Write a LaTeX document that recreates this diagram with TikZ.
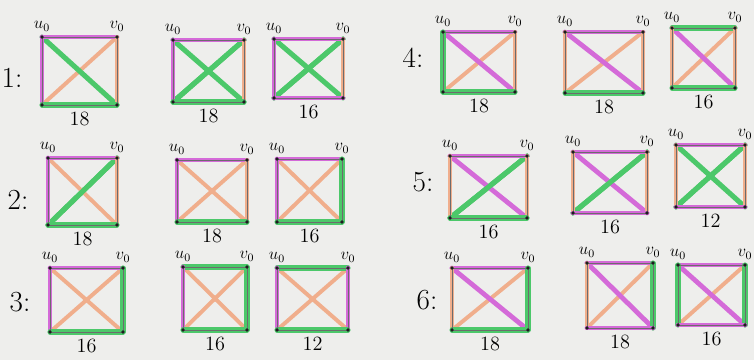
\documentclass[tikz,border=0pt]{standalone}
\usetikzlibrary{positioning}
\definecolor{papel}{HTML}{EEEEEC}
\definecolor{rosa}{HTML}{D46AD8}
\definecolor{verde}{HTML}{4CC86A}
\definecolor{melo}{HTML}{F0AE8C}
\definecolor{tinta}{HTML}{1D1D1F}

\begin{document}
\begin{tikzpicture}[x=0.025cm,y=-0.025cm,
  mg/.style={rosa,line width=3.4pt,line cap=round},
  gr/.style={verde,line width=3.6pt,line cap=round},
  pe/.style={melo,line width=2.8pt,line cap=round},
  mg/over/.style={mg},
  gr/over/.style={gr},
  pe/over/.style={draw=none},
  lapiz/.style={tinta!65,line width=0.4pt},
  lbl/.style={font=\large,inner sep=0pt},
  num/.style={font=\Large},
  fila/.style={font=\huge}]

\fill[papel] (0,0) rectangle (754,360);
\useasboundingbox (0,0) rectangle (754,360);

% squares: corners, sides top/left/right/bottom, diagonals u-q / v-p, total
\foreach \nm/\xa/\ya/\xb/\yb/\sT/\sL/\sR/\sB/\dA/\dB/\num in {
  a1/42/37/117/105/mg/mg/pe/gr/gr/pe/18,
  b1/173/40/244/102/mg/mg/pe/gr/gr/gr/18,
  c1/274/39/343/98/mg/mg/pe/mg/gr/gr/16,
  a2/48/158/117/225/mg/mg/pe/gr/pe/gr/18,
  b2/177/160/247/222/mg/mg/pe/gr/pe/pe/18,
  c2/277/159/342/222/mg/mg/gr/gr/pe/pe/16,
  a3/50/268/123/332/mg/mg/gr/gr/pe/pe/16,
  b3/183/267/247/330/gr/mg/gr/gr/pe/pe/16,
  c3/277/268/348/330/gr/mg/mg/gr/pe/pe/12,
  a4/443/32/515/92/mg/gr/pe/gr/mg/pe/18,
  b4/565/32/643/93/mg/pe/pe/gr/mg/pe/18,
  c4/672/28/735/88/gr/pe/pe/gr/mg/pe/16,
  a5/450/156/527/218/mg/pe/pe/gr/mg/gr/16,
  b5/573/152/647/213/mg/pe/pe/mg/mg/gr/16,
  c5/676/145/745/207/mg/pe/pe/mg/gr/gr/12,
  a6/452/268/528/330/mg/pe/gr/gr/mg/pe/18,
  b6/587/263/653/328/mg/pe/gr/mg/mg/pe/18,
  c6/678/265/745/325/mg/gr/gr/mg/mg/pe/16} {
 \coordinate (\nm-u) at (\xa,\ya);
 \coordinate (\nm-v) at (\xb,\ya);
 \coordinate (\nm-p) at (\xa,\yb);
 \coordinate (\nm-q) at (\xb,\yb);
 \draw[\dB] (\nm-v) -- (\nm-p);
 \draw[\dA] (\nm-u) -- (\nm-q);
 \draw[\dB/over] (\nm-v) -- (\nm-p);
 \draw[\sT] (\nm-u) -- (\nm-v);
 \draw[\sL] (\nm-u) -- (\nm-p);
 \draw[\sR] (\nm-v) -- (\nm-q);
 \draw[\sB] (\nm-p) -- (\nm-q);
 \draw[lapiz] (\nm-u) -- (\nm-v) -- (\nm-q) -- (\nm-p) -- cycle;
 \foreach \k in {u,v,p,q} \fill[tinta] (\nm-\k) circle (1.3pt);
 \node[lbl,above=4pt of \nm-u] (\nm-lu) {$u_0$};
 \node[lbl,above=4pt of \nm-v] (\nm-lv) {$v_0$};
 \node[num] (\nm-n) at ({(\xa+\xb)/2},\yb+14) {\num};
}

\node[fila] (r1) at (12,78) {1:};
\node[fila] (r2) at (18,200) {2:};
\node[fila] (r3) at (20,302) {3:};
\node[fila] (r4) at (413,58) {4:};
\node[fila] (r5) at (423,182) {5:};
\node[fila] (r6) at (427,300) {6:};

\end{tikzpicture}
\end{document}
